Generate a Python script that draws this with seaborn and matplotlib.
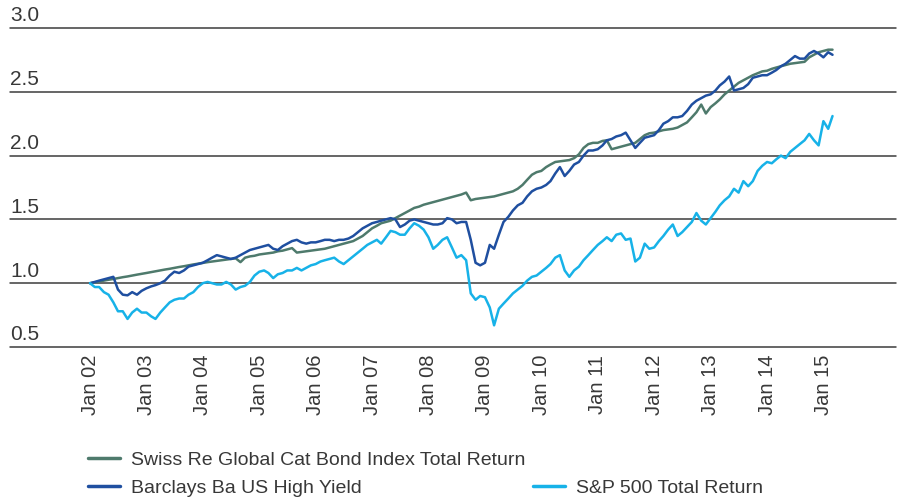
import matplotlib
matplotlib.use("Agg")
import matplotlib.pyplot as plt
import matplotlib.transforms as mtransforms
from matplotlib.lines import Line2D
import seaborn as sns
import pandas as pd

# monthly index readings, Jan 2002 .. Mar 2015
cat_bond = [
    1.00, 1.007, 1.013, 1.02, 1.027, 1.033, 1.04, 1.047, 1.053, 1.06, 1.067, 1.073,
    1.08, 1.087, 1.093, 1.10, 1.107, 1.113, 1.12, 1.127, 1.133, 1.14, 1.147, 1.153,
    1.16, 1.165, 1.17, 1.175, 1.18, 1.185, 1.19, 1.195, 1.165, 1.20, 1.21, 1.215,
    1.225, 1.23, 1.235, 1.24, 1.25, 1.255, 1.265, 1.275, 1.24, 1.245, 1.25, 1.255,
    1.26, 1.265, 1.27, 1.28, 1.29, 1.30, 1.31, 1.32, 1.33, 1.35, 1.37, 1.40,
    1.43, 1.45, 1.47, 1.48, 1.49, 1.51, 1.53, 1.55, 1.57, 1.59, 1.60, 1.615,
    1.625, 1.635, 1.645, 1.655, 1.665, 1.675, 1.685, 1.695, 1.71, 1.65, 1.66, 1.665,
    1.67, 1.675, 1.68, 1.69, 1.70, 1.71, 1.72, 1.74, 1.77, 1.81, 1.85, 1.87,
    1.88, 1.91, 1.93, 1.95, 1.955, 1.96, 1.965, 1.98, 2.01, 2.06, 2.09, 2.10,
    2.10, 2.115, 2.12, 2.05, 2.06, 2.07, 2.08, 2.09, 2.10, 2.13, 2.16, 2.175,
    2.18, 2.19, 2.20, 2.205, 2.21, 2.22, 2.24, 2.26, 2.30, 2.34, 2.40, 2.33,
    2.38, 2.41, 2.44, 2.48, 2.51, 2.54, 2.57, 2.59, 2.61, 2.63, 2.645, 2.66,
    2.665, 2.68, 2.69, 2.70, 2.71, 2.72, 2.725, 2.73, 2.735, 2.77, 2.79, 2.81,
    2.82, 2.83, 2.83,
]
high_yield = [
    1.00, 1.01, 1.02, 1.03, 1.04, 1.05, 0.95, 0.91, 0.905, 0.93, 0.91, 0.94,
    0.96, 0.975, 0.985, 1.00, 1.02, 1.06, 1.09, 1.08, 1.10, 1.13, 1.14, 1.15,
    1.16, 1.18, 1.20, 1.22, 1.21, 1.20, 1.19, 1.20, 1.22, 1.24, 1.26, 1.27,
    1.28, 1.29, 1.30, 1.27, 1.26, 1.29, 1.31, 1.33, 1.34, 1.32, 1.31, 1.32,
    1.32, 1.33, 1.34, 1.34, 1.33, 1.34, 1.34, 1.35, 1.37, 1.40, 1.43, 1.45,
    1.47, 1.48, 1.49, 1.50, 1.51, 1.50, 1.44, 1.46, 1.49, 1.50, 1.49, 1.48,
    1.47, 1.46, 1.46, 1.47, 1.51, 1.50, 1.47, 1.48, 1.48, 1.34, 1.16, 1.14,
    1.16, 1.30, 1.27, 1.38, 1.48, 1.52, 1.57, 1.61, 1.63, 1.68, 1.72, 1.74,
    1.75, 1.77, 1.80, 1.86, 1.91, 1.84, 1.88, 1.93, 1.95, 2.00, 2.04, 2.04,
    2.05, 2.08, 2.12, 2.13, 2.15, 2.16, 2.18, 2.12, 2.06, 2.10, 2.14, 2.15,
    2.16, 2.20, 2.25, 2.27, 2.30, 2.30, 2.31, 2.35, 2.40, 2.43, 2.45, 2.47,
    2.48, 2.51, 2.55, 2.58, 2.62, 2.51, 2.52, 2.53, 2.56, 2.61, 2.62, 2.63,
    2.63, 2.65, 2.67, 2.70, 2.72, 2.75, 2.78, 2.76, 2.76, 2.80, 2.82, 2.80,
    2.77, 2.81, 2.79,
]
sp500 = [
    1.00, 0.97, 0.97, 0.93, 0.91, 0.85, 0.78, 0.78, 0.72, 0.77, 0.80, 0.77,
    0.77, 0.74, 0.72, 0.77, 0.81, 0.85, 0.87, 0.88, 0.88, 0.91, 0.93, 0.97,
    1.00, 1.01, 1.00, 0.99, 0.99, 1.01, 0.99, 0.95, 0.97, 0.98, 1.01, 1.06,
    1.09, 1.10, 1.08, 1.04, 1.07, 1.08, 1.10, 1.10, 1.12, 1.10, 1.12, 1.14,
    1.15, 1.17, 1.18, 1.19, 1.20, 1.17, 1.15, 1.18, 1.21, 1.24, 1.27, 1.30,
    1.32, 1.34, 1.31, 1.36, 1.41, 1.40, 1.38, 1.38, 1.43, 1.47, 1.45, 1.42,
    1.36, 1.27, 1.30, 1.34, 1.36, 1.28, 1.20, 1.22, 1.18, 0.92, 0.87, 0.90,
    0.89, 0.81, 0.67, 0.80, 0.84, 0.88, 0.92, 0.95, 0.98, 1.02, 1.05, 1.06,
    1.09, 1.12, 1.15, 1.20, 1.22, 1.10, 1.05, 1.10, 1.13, 1.18, 1.22, 1.26,
    1.30, 1.33, 1.36, 1.33, 1.38, 1.39, 1.34, 1.35, 1.17, 1.20, 1.31, 1.27,
    1.28, 1.33, 1.37, 1.42, 1.46, 1.37, 1.40, 1.44, 1.48, 1.55, 1.49, 1.46,
    1.51, 1.56, 1.61, 1.65, 1.68, 1.74, 1.71, 1.80, 1.76, 1.80, 1.88, 1.92,
    1.95, 1.94, 1.97, 2.00, 1.98, 2.03, 2.06, 2.09, 2.12, 2.17, 2.12, 2.08,
    2.27, 2.21, 2.31,
]
series_names = [
    "Swiss Re Global Cat Bond Index Total Return",
    "Barclays Ba US High Yield",
    "S&P 500 Total Return",
]
colors = ["#4e7a6c", "#1f4fa0", "#17b2e8"]
yticks = [0.5, 1.0, 1.5, 2.0, 2.5, 3.0]
tick_years = list(range(2002, 2016))

dates = pd.date_range("2002-01-01", periods=len(cat_bond), freq="MS")

sns.set_style("white")
plt.rcParams["font.family"] = ["Liberation Sans", "DejaVu Sans"]
text_color = "#383838"

fig = plt.figure(figsize=(9.06, 5.04), dpi=100)
ax = fig.add_axes([10 / 906, 1 - 347 / 504, 886 / 906, 319 / 504])

for vals, name, c in zip([cat_bond, high_yield, sp500], series_names, colors):
    sns.lineplot(x=dates, y=vals, ax=ax, color=c, linewidth=1.8, legend=False)

for v in yticks:
    ax.axhline(v, color="#3c3c3c", linewidth=1.1, clip_on=False, zorder=0)

ax.set_ylim(0.5, 3.0)
ax.set_xlim(pd.Timestamp("2000-08-01"), pd.Timestamp("2016-04-15"))
ax.set_yticks([])
ax.set_xlabel("")
ax.set_ylabel("")
ax.set_xticks([pd.Timestamp(f"{y}-01-01") for y in tick_years])
ax.set_xticklabels([f"Jan {y % 100:02d}" for y in tick_years], rotation=90,
                   fontsize=14.5, color=text_color)
ax.tick_params(axis="x", length=0, pad=5.5)
for s in ax.spines.values():
    s.set_visible(False)

trans = mtransforms.blended_transform_factory(ax.transAxes, ax.transData)
trans = mtransforms.offset_copy(trans, fig=fig, y=4.8, units="points")
for v in yticks:
    ax.text(0.0, v, f"{v:.1f}", transform=trans, ha="left", va="baseline",
            fontsize=15, color=text_color)

handles = [
    Line2D([], [], color=colors[0], lw=2.5),
    Line2D([], [], color=colors[1], lw=2.5),
    Line2D([], [], color="none"),
    Line2D([], [], color=colors[2], lw=2.5),
]
labels = [series_names[0], series_names[1], "", series_names[2]]
fig.legend(handles, labels, ncol=2, loc="upper left",
           bbox_to_anchor=(88 / 906, 1 - 451 / 504), frameon=False,
           fontsize=14, handlelength=1.65, handletextpad=0.55,
           columnspacing=0.4, labelspacing=0.56, borderpad=0,
           borderaxespad=0, labelcolor=text_color)

fig.savefig("out.png", dpi=100)
